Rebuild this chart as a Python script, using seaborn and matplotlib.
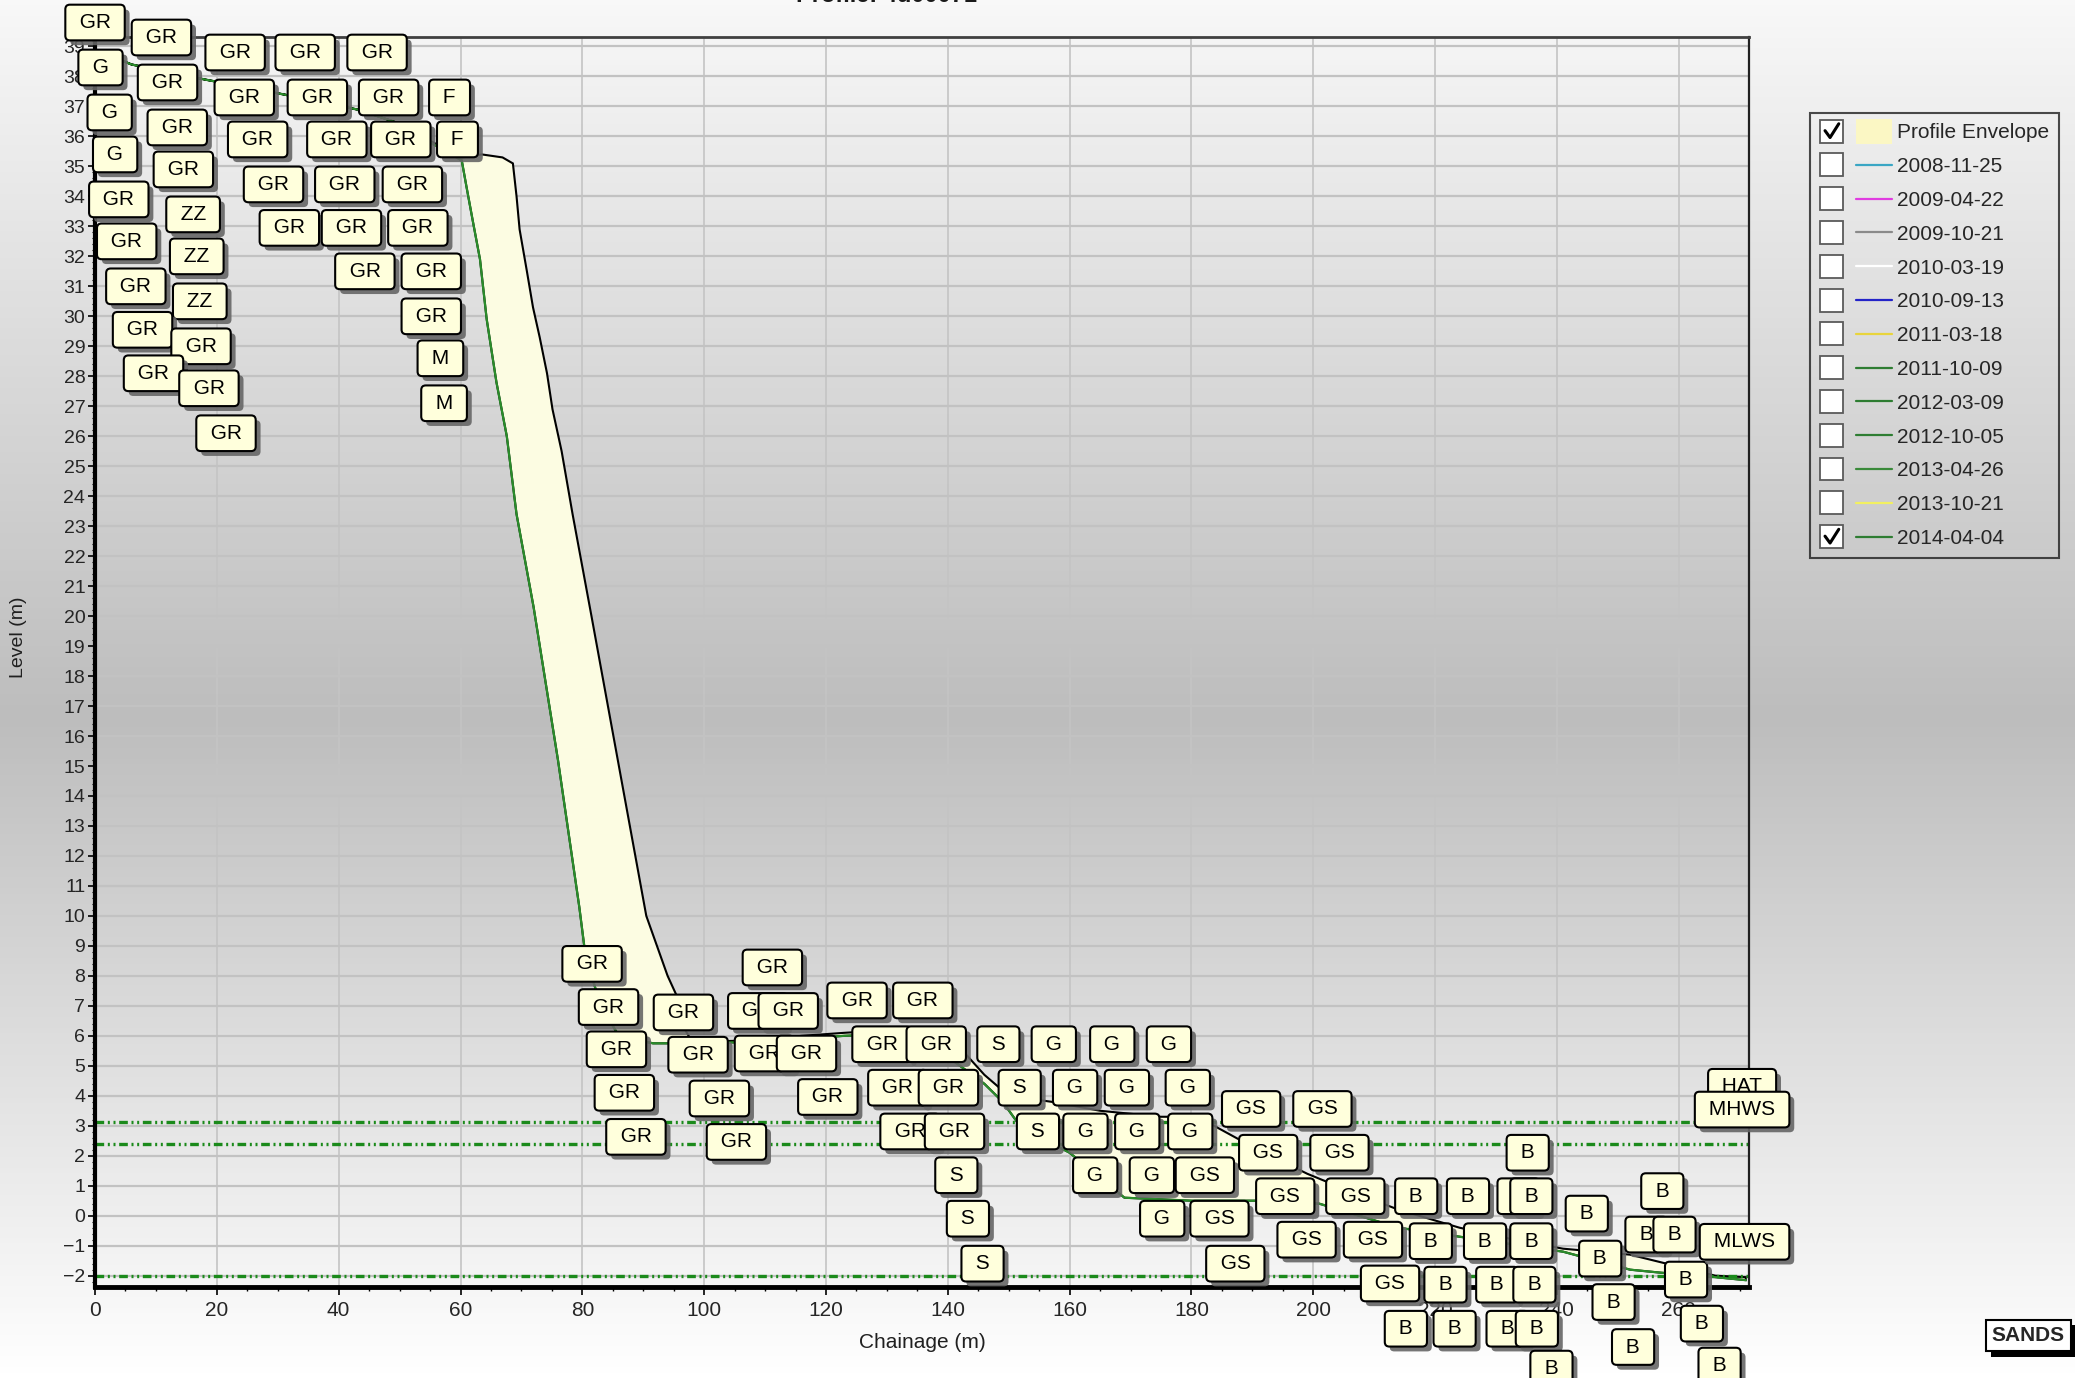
import numpy as np
import matplotlib as mpl
mpl.use("Agg")
import matplotlib.pyplot as plt
import matplotlib.patheffects as pe
import seaborn as sns
from matplotlib.patches import Rectangle, Patch
from matplotlib.lines import Line2D
from matplotlib.colors import LinearSegmentedColormap
from matplotlib.ticker import MultipleLocator

# 2014-04-04 survey (also the lower / landward edge of the envelope)
prof_x = [0, 6, 18, 31, 43, 49, 60.2, 61.0, 62.0, 63.2, 64.3, 65.9, 67.6, 69.2,
          72.0, 76.0, 79.5, 80.5, 83.0, 86.0, 91.6, 98.0, 109, 116, 123, 135,
          140, 146, 149, 152, 160, 169, 180, 191, 201, 214, 224, 241, 252, 257,
          266, 271]
prof_z = [38.9, 38.4, 37.9, 37.4, 36.9, 36.5, 35.2, 34.3, 33.2, 31.9, 29.9, 27.8,
          26.0, 23.4, 20.3, 15.2, 10.3, 8.7, 7.0, 6.0, 5.75, 5.75, 5.8, 5.9, 6.0,
          6.1, 5.3, 4.4, 3.8, 2.95, 2.1, 0.6, 0.5, 0.5, 0.4, -0.4, -0.7, -1.2,
          -1.8, -1.9, -2.05, -2.15]

# upper / seaward edge of the profile envelope
env_x = [0, 6, 18, 31, 43, 49, 60.2, 63.5, 66.9, 68.6, 69.2, 69.7, 70.9, 71.9,
         73.0, 74.2, 75.1, 76.6, 78.4, 81.5, 86.0, 90.5, 94.0, 95.8, 96.6, 98.0,
         109, 116, 123, 135, 142, 146, 150, 157, 165, 175, 181, 190, 199, 205,
         214, 224, 233, 241, 252, 260, 266, 271]
env_z = [38.9, 38.4, 37.9, 37.4, 36.9, 36.5, 35.3, 35.4, 35.3, 35.1, 34.0, 32.9,
         31.5, 30.3, 29.3, 28.1, 26.9, 25.5, 23.4, 20.0, 15.0, 10.0, 8.0, 7.2,
         6.3, 5.8, 5.85, 6.0, 6.1, 6.25, 5.6, 4.7, 4.0, 3.8, 3.5, 3.3, 3.3, 2.3,
         1.4, 0.9, 0.2, -0.4, -0.8, -1.1, -1.3, -1.7, -2.0, -2.05]

# sediment code labels (box positions as drawn), cliff top
top_x = [0.0, 10.9, 23.0, 34.5, 46.3, 0.9, 11.9, 24.5, 36.5, 48.2, 58.2, 2.4,
         13.5, 26.7, 39.7, 50.2, 59.5, 3.3, 14.5, 29.3, 41.0, 52.1, 3.9, 16.1,
         31.9, 42.1, 53.0, 5.2, 16.7, 44.3, 55.2, 6.7, 17.2, 55.2, 7.8, 17.4,
         56.7, 9.6, 18.7, 57.3, 21.5]
top_z = [39.8, 39.3, 38.8, 38.8, 38.8, 38.3, 37.8, 37.3, 37.3, 37.3, 37.3, 36.8,
         36.3, 35.9, 35.9, 35.9, 35.9, 35.4, 34.9, 34.4, 34.4, 34.4, 33.9, 33.4,
         32.95, 32.95, 32.95, 32.5, 32.0, 31.5, 31.5, 31.0, 30.5, 30.0, 29.55,
         29.0, 28.6, 28.1, 27.6, 27.1, 26.1]
top_txt = ["GR", "GR", "GR", "GR", "GR", "G", "GR", "GR", "GR", "GR", "F", "G",
           "GR", "GR", "GR", "GR", "F", "G", "GR", "GR", "GR", "GR", "GR", "ZZ",
           "GR", "GR", "GR", "GR", "ZZ", "GR", "GR", "GR", "ZZ", "GR", "GR", "GR",
           "M", "GR", "GR", "M", "GR"]

# cliff toe and beach: gravel (GR)
gr_x = [81.6, 84.3, 85.6, 86.9, 88.8, 96.6, 99.0, 102.5, 105.3, 111.2, 108.8,
        113.8, 109.9, 116.8, 120.3, 125.1, 135.9, 129.2, 138.1, 131.8, 140.1,
        133.8, 141.1]
gr_z = [8.4, 6.96, 5.55, 4.1, 2.63, 6.78, 5.37, 3.91, 2.46, 8.28, 6.83, 6.83,
        5.41, 5.41, 3.96, 7.18, 7.18, 5.72, 5.72, 4.27, 4.27, 2.81, 2.81]
# sand (S)
s_x = [141.4, 143.3, 145.7, 148.3, 151.8, 154.8]
s_z = [1.35, -0.1, -1.6, 5.72, 4.27, 2.81]
# G
g_x = [157.4, 160.9, 162.6, 164.2, 167.0, 169.4, 171.1, 173.5, 175.2, 176.3,
       179.4, 179.8]
g_z = [5.72, 4.27, 2.81, 1.35, 5.72, 4.27, 2.81, 1.35, -0.1, 5.72, 4.27, 2.81]
# GS
gs_x = [182.2, 184.6, 187.2, 189.8, 192.6, 195.4, 198.9, 201.5, 204.3, 206.9,
        209.8, 212.6]
gs_z = [1.35, -0.1, -1.6, 3.56, 2.1, 0.65, -0.8, 3.56, 2.1, 0.65, -0.8, -2.26]
# B
b_x = [216.9, 219.3, 221.7, 215.2, 225.4, 228.2, 230.2, 223.2, 235.2, 233.7,
       235.8, 235.8, 236.3, 231.9, 236.7, 239.1, 244.9, 247.1, 249.3, 252.5,
       257.3, 254.7, 259.3, 261.2, 263.8, 266.7]
b_z = [0.65, -0.85, -2.3, -3.77, 0.65, -0.85, -2.3, -3.77, 2.1, 0.65, 0.65,
       -0.85, -2.3, -3.77, -3.77, -5.1, 0.07, -1.43, -2.88, -4.38, 0.82, -0.63,
       -0.63, -2.13, -3.6, -5.0]

# tidal levels
tide_names = ["HAT", "MHWS", "MLWS"]
tide_z = [3.13, 2.39, -2.02]
tide_lab_x = [270.4, 270.4, 270.8]
tide_lab_z = [4.3, 3.54, -0.87]

# legend entries
leg_labels = ["Profile Envelope", "2008-11-25", "2009-04-22", "2009-10-21",
              "2010-03-19", "2010-09-13", "2011-03-18", "2011-10-09",
              "2012-03-09", "2012-10-05", "2013-04-26", "2013-10-21", "2014-04-04"]
leg_colors = ["#fbf7c4", "#3aa6c4", "#e03ce0", "#8a8a8a", "#ffffff", "#2323c8",
              "#e8d43c", "#2e7d32", "#2e7d32", "#2e7d32", "#3a8a3a", "#f2f060",
              "#2e7d32"]
leg_checked = [True] + [False] * 11 + [True]

ENV_FILL = "#fcfce2"
PROF_GREEN = "#2a8c2a"
BOX_FILL = "#ffffdc"

sns.set_theme(style="whitegrid")
plt.rcParams['font.family'] = ['Liberation Sans', 'DejaVu Sans']


class CheckHandler:
    """legend handle: checkbox followed by the line / patch sample"""

    def __init__(self, checked):
        self.checked = checked

    def legend_artist(self, legend, orig_handle, fontsize, handlebox):
        x0, y0 = handlebox.xdescent, handlebox.ydescent
        w, h = handlebox.width, handlebox.height
        tr = handlebox.get_transform()
        s = 1.1 * fontsize
        yb = y0 + h / 2 - s / 2
        box = Rectangle((x0, yb), s, s, fc="white", ec="#5a5a5a", lw=1.3,
                        transform=tr)
        handlebox.add_artist(box)
        if self.checked:
            handlebox.add_artist(Line2D([x0 + 0.2 * s, x0 + 0.42 * s, x0 + 0.8 * s],
                                        [yb + 0.52 * s, yb + 0.22 * s, yb + 0.82 * s],
                                        color="black", lw=2.2, transform=tr))
        sx = x0 + s + 0.55 * s
        if isinstance(orig_handle, Patch):
            handlebox.add_artist(Rectangle((sx, y0 + h / 2 - 0.6 * fontsize),
                                           x0 + w - sx, 1.2 * fontsize,
                                           fc=orig_handle.get_facecolor(),
                                           ec="none", transform=tr))
        else:
            handlebox.add_artist(Line2D([sx, x0 + w], [y0 + h / 2] * 2,
                                        color=orig_handle.get_color(), lw=1.6,
                                        transform=tr))
        return box


fig = plt.figure(figsize=(20.75, 13.78), dpi=100)

# grey gradient background behind everything
bg = fig.add_axes([0, 0, 1, 1], zorder=-5)
grad_cmap = LinearSegmentedColormap.from_list(
    "bg", [(0.0, "#f8f8f8"), (0.52, "#bdbdbd"), (1.0, "#ffffff")])
bg.imshow(np.linspace(0, 1, 256).reshape(-1, 1), aspect="auto", cmap=grad_cmap,
          extent=[0, 1, 0, 1], origin="upper")
bg.set_axis_off()

ax = fig.add_axes([0.0458, 0.066, 0.797, 0.907])
ax.set_facecolor("none")

# profile envelope
ax.fill(np.r_[env_x, prof_x[::-1]], np.r_[env_z, prof_z[::-1]],
        facecolor=ENV_FILL, edgecolor="black", lw=1.5, zorder=2)
sns.lineplot(x=prof_x, y=prof_z, sort=False, estimator=None, color=PROF_GREEN,
             lw=1.6, ax=ax, zorder=2.2)

# tide levels
for z in tide_z:
    ax.axhline(z, color="#1b8a1b", lw=2.4, dashes=(2.6, 1.1, 0.6, 1.1, 0.6, 1.1),
               zorder=2.3)


def code_box(x, z, txt):
    t = ax.text(x, z, f" {txt} ", ha="center", va="center", fontsize=15,
                color="black", clip_on=False, zorder=4,
                bbox=dict(boxstyle="round,pad=0.4,rounding_size=0.22",
                          fc=BOX_FILL, ec="black", lw=1.5))
    t.get_bbox_patch().set_path_effects(
        [pe.SimplePatchShadow(offset=(3.5, -3.5), shadow_rgbFace="#666666", alpha=0.9),
         pe.Normal()])


groups = [(top_x, top_z, top_txt),
          (gr_x, gr_z, ["GR"] * len(gr_x)),
          (s_x, s_z, ["S"] * len(s_x)),
          (g_x, g_z, ["G"] * len(g_x)),
          (gs_x, gs_z, ["GS"] * len(gs_x)),
          (b_x, b_z, ["B"] * len(b_x)),
          (tide_lab_x, tide_lab_z, tide_names)]
for xs, zs, txts in groups:
    for x, z, txt in zip(xs, zs, txts):
        code_box(x, z, txt)

# axes
ax.set_xlim(0, 271.5)
ax.set_ylim(-2.38, 39.31)
ax.xaxis.set_major_locator(MultipleLocator(20))
ax.xaxis.set_minor_locator(MultipleLocator(5))
ax.yaxis.set_major_locator(MultipleLocator(1))
ax.yaxis.set_minor_locator(MultipleLocator(0.2))
ax.grid(True, which="major", axis="y", color="#c2c2c2", lw=1.6)
ax.grid(True, which="major", axis="x", color="#c4c4c4", lw=1.2)
ax.grid(False, which="minor")
ax.set_axisbelow(True)
ax.tick_params(axis="x", which="major", direction="out", length=6, width=1.2,
               color="black", labelsize=15, pad=4, bottom=True)
ax.tick_params(axis="x", which="minor", direction="out", length=3, width=1,
               color="black", bottom=True)
ax.tick_params(axis="y", which="major", direction="out", length=5, width=1.2,
               color="black", labelsize=14, pad=2, left=True)
ax.tick_params(axis="y", which="minor", direction="out", length=2.5, width=0.8,
               color="black", left=True)
for side, lw, col in [("left", 3, "black"), ("bottom", 3.5, "black"),
                      ("top", 2, "#404040"), ("right", 1.6, "#202020")]:
    ax.spines[side].set_visible(True)
    ax.spines[side].set_linewidth(lw)
    ax.spines[side].set_color(col)

ax.set_xlabel("Chainage (m)", fontsize=15, color="#202020")
ax.set_ylabel("Level (m)", fontsize=14, color="#202020")
ax.xaxis.set_label_coords(0.5, -0.037)
ax.yaxis.set_label_coords(-0.041, 0.52)

# title, mostly above the visible area as in the capture
fig.text(0.427, 0.9985, "Profile: 4d00071", ha="center", va="baseline",
         fontsize=17, weight="bold", color="#1a1a1a")

# legend with check boxes
handles = [Patch(facecolor=leg_colors[0])] + [Line2D([], [], color=c)
                                               for c in leg_colors[1:]]
hmap = {h: CheckHandler(c) for h, c in zip(handles, leg_checked)}
leg = fig.legend(handles, leg_labels, handler_map=hmap, loc="upper left",
                 bbox_to_anchor=(0.8723, 0.918), fontsize=15, frameon=True,
                 fancybox=False, handlelength=3.45, handletextpad=0.22,
                 labelspacing=0.71, borderpad=0.5, borderaxespad=0)
leg.get_frame().set_facecolor("none")
leg.get_frame().set_edgecolor("#1e1e1e")
leg.get_frame().set_linewidth(1.5)

# SANDS stamp
st = fig.text(0.9775, 0.031, "SANDS", ha="center", va="center", fontsize=15,
              weight="bold", family=["Liberation Sans Narrow", "Liberation Sans"],
              bbox=dict(boxstyle="square,pad=0.3", fc="white", ec="black", lw=1.5))
st.get_bbox_patch().set_path_effects(
    [pe.SimplePatchShadow(offset=(4, -4), shadow_rgbFace="black", alpha=1.0),
     pe.Normal()])

fig.savefig("out.png", dpi=100)
